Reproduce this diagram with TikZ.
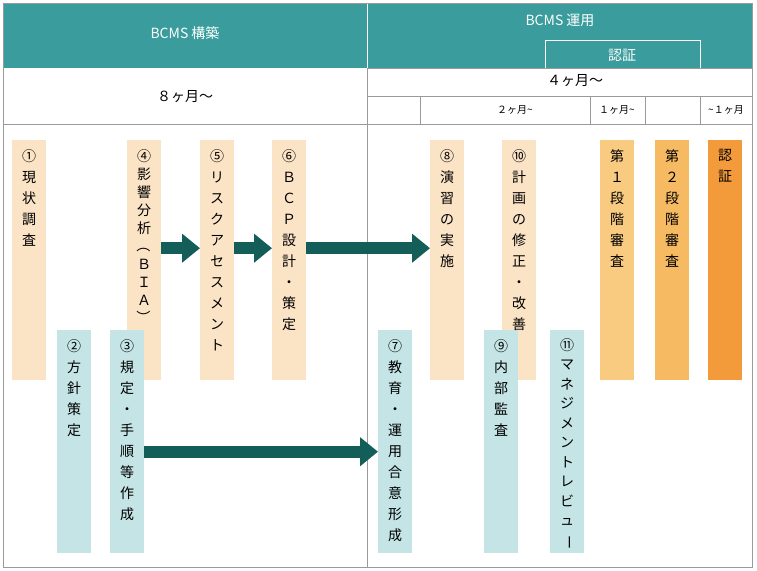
\documentclass[tikz,border=0pt]{standalone}
\usepackage{fontspec}
\setmainfont{Noto Sans CJK JP}
\usetikzlibrary{arrows.meta, positioning}
\definecolor{headteal}{HTML}{3A9C9C}
\definecolor{peach}{HTML}{FBE3C6}
\definecolor{paleblue}{HTML}{C4E4E6}
\definecolor{ora1}{HTML}{F8CB80}
\definecolor{ora2}{HTML}{F6BA62}
\definecolor{ora3}{HTML}{F39A3B}
\definecolor{arrowgreen}{HTML}{135E58}
\definecolor{gridgrey}{HTML}{9A9A9A}
\newcommand{\rot}[1]{\rotatebox[origin=c]{-90}{#1}}
\begin{document}
\begin{tikzpicture}[x=1pt, y=-1pt,
	col/.style={draw=none, minimum width=34pt, anchor=north west, inner sep=0pt},
	vtext/.style={anchor=north, align=center, font=\fontsize{14}{21}\selectfont, inner sep=0pt},
	htext/.style={font=\fontsize{14}{16}\selectfont},
	small/.style={font=\fontsize{10}{12}\selectfont},
	bigarrow/.style={arrowgreen, line width=12pt, -{Triangle[length=18pt, width=28pt]}}]

\useasboundingbox (0,0) rectangle (757,570);

% Header
\fill[headteal] (3,3) rectangle (752,68);
\draw[white, thick] (367,3) -- (367,68);
\draw[white] (545,68) -- (545,40) -- (700,40) -- (700,68);
\node[htext, white] (h1) at (185,33) {BCMS 構築};
\node[htext, white] (h2) at (560,20) {BCMS 運用};
\node[htext, white] (h3) at (622,55) {認証};

% Grid
\draw[gridgrey] (3,3) rectangle (752,567);
\draw[gridgrey] (367,68) -- (752,68);
\draw[gridgrey] (367,96) -- (752,96);
\draw[gridgrey] (3,124) -- (752,124);
\draw[gridgrey] (367,68) -- (367,567);
\foreach \x in {420,590,645,700}
	\draw[gridgrey] (\x,96) -- (\x,124);
\node[htext] (m8) at (185,97) {８ヶ月〜};
\node[htext] (m4) at (575,81) {４ヶ月〜};
\node[small] (t2) at (515,110) {２ヶ月\textasciitilde};
\node[small] (t1a) at (617,110) {１ヶ月\textasciitilde};
\node[small] (t1b) at (726,110) {\textasciitilde１ヶ月};

% Upper columns
\node[col, fill=peach, minimum height=240pt] (b1) at (12,140) {};
\node[col, fill=peach, minimum height=240pt] (b4) at (127,140) {};
\node[col, fill=peach, minimum height=240pt] (b5) at (200,140) {};
\node[col, fill=peach, minimum height=240pt] (b6) at (272,140) {};
\node[col, fill=peach, minimum height=240pt] (b8) at (430,140) {};
\node[col, fill=peach, minimum height=240pt] (b10) at (502,140) {};
\node[col, fill=ora1, minimum height=240pt] (b12) at (600,140) {};
\node[col, fill=ora2, minimum height=240pt] (b13) at (655,140) {};
\node[col, fill=ora3, minimum height=240pt] (b14) at (708,140) {};

% Lower columns
\node[col, fill=paleblue, minimum height=223pt] (b2) at (57,330) {};
\node[col, fill=paleblue, minimum height=223pt] (b3) at (110,330) {};
\node[col, fill=paleblue, minimum height=223pt] (b7) at (378,330) {};
\node[col, fill=paleblue, minimum height=223pt] (b9) at (484,330) {};
\node[col, fill=paleblue, minimum height=223pt] (b11) at (550,330) {};

% Texts
\node[vtext, below=9pt of b1.north] (l1) {①\\現\\状\\調\\査};
\node[vtext, below=9pt of b4.north, font=\fontsize{14}{18}\selectfont] (l4) {④\\影\\響\\分\\析\\\rot{（}\\Ｂ\\Ｉ\\Ａ\\\rot{）}};
\node[vtext, below=9pt of b5.north] (l5) {⑤\\リ\\ス\\ク\\ア\\セ\\ス\\メ\\ン\\ト};
\node[vtext, below=9pt of b6.north] (l6) {⑥\\Ｂ\\Ｃ\\Ｐ\\設\\計\\・\\策\\定};
\node[vtext, below=9pt of b8.north] (l8) {⑧\\演\\習\\の\\実\\施};
\node[vtext, below=9pt of b10.north] (l10) {⑩\\計\\画\\の\\修\\正\\・\\改\\善};
\node[vtext, below=9pt of b12.north] (l12) {第\\１\\段\\階\\審\\査};
\node[vtext, below=9pt of b13.north] (l13) {第\\２\\段\\階\\審\\査};
\node[vtext, below=9pt of b14.north] (l14) {認\\証};
\node[vtext, below=9pt of b2.north] (l2) {②\\方\\針\\策\\定};
\node[vtext, below=9pt of b3.north] (l3) {③\\規\\定\\・\\手\\順\\等\\作\\成};
\node[vtext, below=9pt of b7.north] (l7) {⑦\\教\\育\\・\\運\\用\\合\\意\\形\\成};
\node[vtext, below=9pt of b9.north] (l9) {⑨\\内\\部\\監\\査};
\node[vtext, below=8pt of b11.north, font=\fontsize{14}{19.5}\selectfont] (l11) {⑪\\マ\\ネ\\ジ\\メ\\ン\\ト\\レ\\ビ\\ュ\\\rot{ー}};

% Arrows
\draw[bigarrow] ([yshift=12pt]b4.east) -- ([yshift=12pt]b5.west);
\draw[bigarrow] ([yshift=12pt]b5.east) -- ([yshift=12pt]b6.west);
\draw[bigarrow] ([yshift=12pt]b6.east) -- ([yshift=12pt]b8.west);
\draw[bigarrow] ([yshift=-10pt]b3.east) -- ([yshift=-10pt]b7.west);
\end{tikzpicture}
\end{document}
